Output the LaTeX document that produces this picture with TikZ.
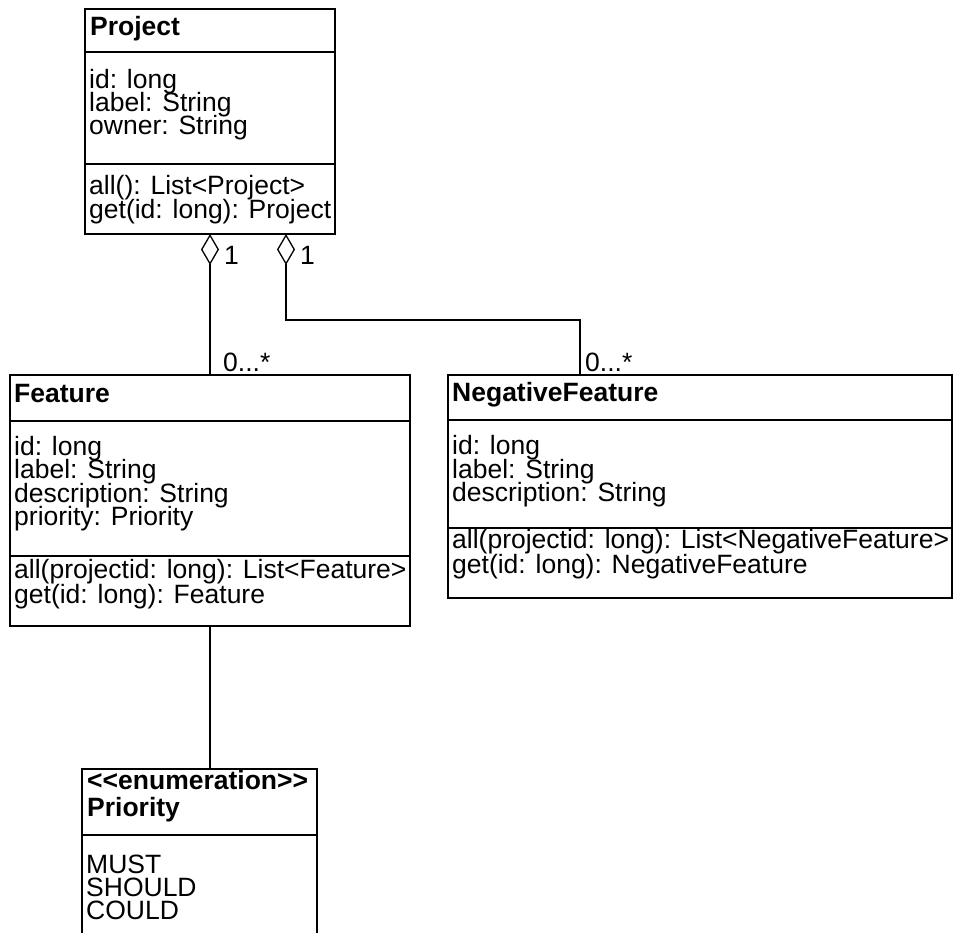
\documentclass[tikz,border=0pt]{standalone}
\usepackage{fontspec}
\setmainfont{Liberation Sans}[Ligatures=TeXOff]
\usetikzlibrary{arrows.meta}
\begin{document}
\begin{tikzpicture}[x=1pt,y=-1pt,
  box/.style={draw, line width=1.3pt, inner sep=0pt, outer sep=0pt, anchor=north west},
  ln/.style={anchor=base west, inner sep=0pt, font=\fontsize{26.5}{23}\selectfont},
  ttl/.style={anchor=base west, inner sep=0pt, font=\fontsize{26.5}{23}\selectfont\bfseries},
  sepline/.style={line width=1.3pt},
  conn/.style={line width=1.3pt},
  agg/.style={conn, {Diamond[open, length=31pt, width=18pt]}-}]
\useasboundingbox (0,0) rectangle (955,933);

% ---------- Project ----------
\node[box, minimum width=250pt, minimum height=225pt] (proj) at (85,9) {};
\draw[sepline] (proj.west |- 0,52) -- (proj.east |- 0,52);
\draw[sepline] (proj.west |- 0,164) -- (proj.east |- 0,164);
\node[ttl] (projT) at (90,36) {Project};
\node[ln] (projA1) at (89,89) {id: long};
\node[ln] (projA2) at (89,112) {label: String};
\node[ln] (projA3) at (89,135) {owner: String};
\node[ln] (projM1) at (89,195) {all(): List<Project>};
\node[ln] (projM2) at (89,219) {get(id: long): Project};

% ---------- Feature ----------
\node[box, minimum width=400pt, minimum height=251pt] (feat) at (10,375) {};
\draw[sepline] (feat.west |- 0,421) -- (feat.east |- 0,421);
\draw[sepline] (feat.west |- 0,556) -- (feat.east |- 0,556);
\node[ttl] (featT) at (14,402) {Feature};
\node[ln] (featA1) at (14,455) {id: long};
\node[ln] (featA2) at (14,478) {label: String};
\node[ln] (featA3) at (14,502) {description: String};
\node[ln] (featA4) at (14,525) {priority: Priority};
\node[ln] (featM1) at (14,578) {all(projectid: long): List<Feature>};
\node[ln] (featM2) at (14,603) {get(id: long): Feature};

% ---------- NegativeFeature ----------
\node[box, minimum width=504pt, minimum height=223pt] (neg) at (448,375) {};
\draw[sepline] (neg.west |- 0,420) -- (neg.east |- 0,420);
\draw[sepline] (neg.west |- 0,528) -- (neg.east |- 0,528);
\node[ttl] (negT) at (452,401) {NegativeFeature};
\node[ln] (negA1) at (452,454) {id: long};
\node[ln] (negA2) at (452,478) {label: String};
\node[ln] (negA3) at (452,501) {description: String};
\node[ln] (negM1) at (452,548) {all(projectid: long): List<NegativeFeature>};
\node[ln] (negM2) at (452,573) {get(id: long): NegativeFeature};

% ---------- Priority ----------
\node[box, minimum width=235pt, minimum height=200pt] (prio) at (82,769) {};
\draw[sepline] (prio.west |- 0,835) -- (prio.east |- 0,835);
\node[ttl] (prioT1) at (87,789) {<<enumeration>>};
\node[ttl] (prioT2) at (87,816) {Priority};
\node[ln] (prioA1) at (86,873) {MUST};
\node[ln] (prioA2) at (86,896) {SHOULD};
\node[ln] (prioA3) at (86,919) {COULD};

% ---------- Connectors ----------
\coordinate (agg2) at (286,234);
\coordinate (negIn) at (580,375);
\draw[agg] (feat.north |- proj.south) -- (feat.north);
\draw[agg] (agg2) -- (agg2 |- 0,320) -| (negIn);
\draw[conn] (feat.south) -- (feat.south |- prio.north);

% ---------- Multiplicities ----------
\node[ln] (m1) at (224,265) {1};
\node[ln] (m2) at (300,265) {1};
\node[ln] (m3) at (223,371) {0...*};
\node[ln] (m4) at (585,371) {0...*};
\end{tikzpicture}
\end{document}
